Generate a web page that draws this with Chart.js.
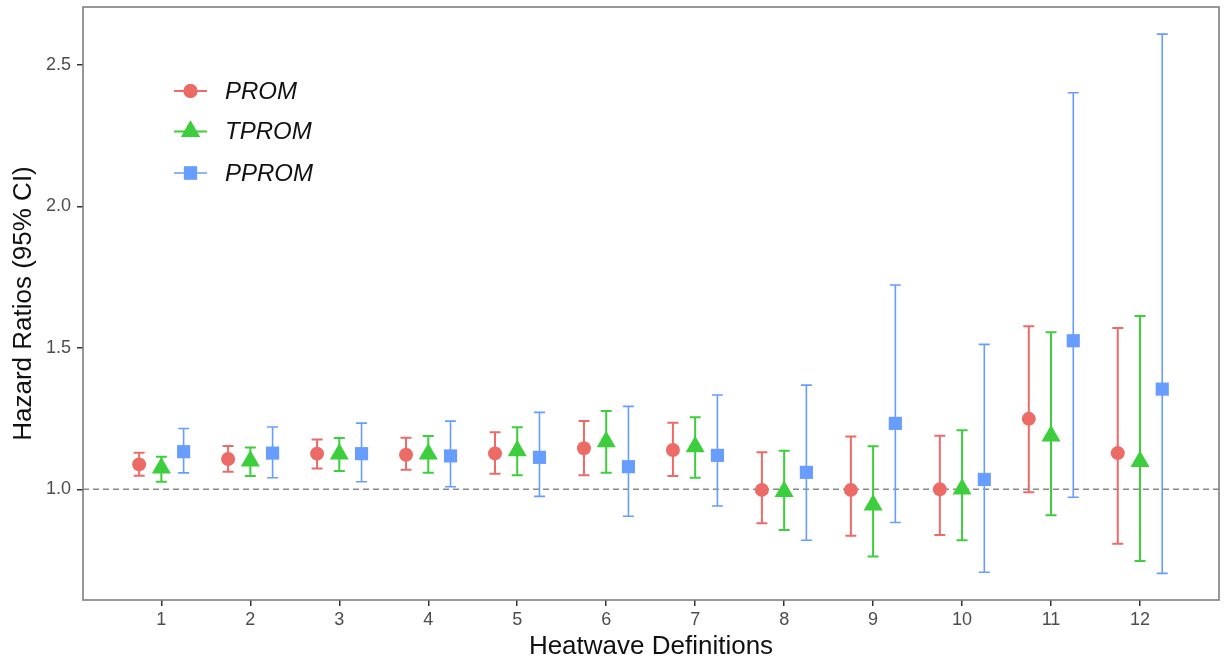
<!DOCTYPE html>
<html>
<head>
<meta charset="utf-8">
<script src="https://cdn.jsdelivr.net/npm/chart.js@4.4.1/dist/chart.umd.min.js"></script>
<style>
  html, body { margin: 0; padding: 0; background: #ffffff; }
  #wrap { width: 1225px; height: 665px; position: relative; }
</style>
</head>
<body>
<div id="wrap"><canvas id="c" width="1225" height="665"></canvas></div>
<script>
// ---- Data ----
const categories = [1, 2, 3, 4, 5, 6, 7, 8, 9, 10, 11, 12];
const seriesNames = ['PROM', 'TPROM', 'PPROM'];

const promHR  = [1.088, 1.107, 1.126, 1.122, 1.127, 1.145, 1.139, 0.998, 0.998, 1.000, 1.249, 1.128];
const promLo  = [1.048, 1.062, 1.074, 1.069, 1.055, 1.050, 1.047, 0.880, 0.836, 0.839, 0.990, 0.808];
const promHi  = [1.129, 1.153, 1.176, 1.182, 1.202, 1.241, 1.235, 1.131, 1.187, 1.189, 1.576, 1.570];

const tpromHR = [1.075, 1.100, 1.125, 1.125, 1.136, 1.168, 1.150, 0.992, 0.945, 1.001, 1.188, 1.098];
const tpromLo = [1.027, 1.047, 1.065, 1.059, 1.050, 1.059, 1.041, 0.856, 0.763, 0.820, 0.908, 0.747];
const tpromHi = [1.115, 1.148, 1.181, 1.188, 1.219, 1.277, 1.255, 1.136, 1.152, 1.209, 1.555, 1.612];

const ppromHR = [1.133, 1.128, 1.126, 1.118, 1.113, 1.080, 1.120, 1.060, 1.233, 1.035, 1.525, 1.354];
const ppromLo = [1.058, 1.041, 1.027, 1.009, 0.975, 0.905, 0.941, 0.820, 0.883, 0.707, 0.972, 0.703];
const ppromHi = [1.215, 1.220, 1.234, 1.241, 1.272, 1.293, 1.333, 1.368, 1.722, 1.512, 2.401, 2.608];

const yTickValues = [1.0, 1.5, 2.0, 2.5];
const referenceHR = 1.0;

// ---- Styling ----
const colors = { PROM: '#EC6B67', TPROM: '#3DCE3D', PPROM: '#679DFF' };
const dodge = { PROM: -0.25, TPROM: 0, PPROM: 0.25 };
const shapes = { PROM: 'circle', TPROM: 'triangle', PPROM: 'rect' };
const radii = { PROM: 7, TPROM: 11, PPROM: 9.3 };
const barWidths = { PROM: 2, TPROM: 2, PPROM: 1.6 };
const FONT = "'Liberation Sans', Arial, sans-serif";

function build(name, hr, lo, hi) {
  return {
    label: name,
    data: categories.map((c, i) => ({ x: c + dodge[name], y: hr[i], lo: lo[i], hi: hi[i] })),
    backgroundColor: colors[name],
    borderColor: colors[name],
    borderWidth: 0,
    pointStyle: shapes[name],
    pointRadius: radii[name],
    pointHoverRadius: radii[name],
    barWidth: barWidths[name]
  };
}

const datasets = [
  build('PROM', promHR, promLo, promHi),
  build('TPROM', tpromHR, tpromLo, tpromHi),
  build('PPROM', ppromHR, ppromLo, ppromHi)
];

const errorBarPlugin = {
  id: 'errorBars',
  beforeDatasetsDraw(chart) {
    const { ctx, chartArea, scales: { x, y } } = chart;
    const yr = y.getPixelForValue(referenceHR);
    ctx.save();
    ctx.strokeStyle = '#8a8a8a';
    ctx.lineWidth = 1.5;
    ctx.setLineDash([6, 4]);
    ctx.beginPath();
    ctx.moveTo(chartArea.left, yr);
    ctx.lineTo(chartArea.right, yr);
    ctx.stroke();
    ctx.setLineDash([]);
    chart.data.datasets.forEach(ds => {
      ctx.strokeStyle = ds.borderColor;
      ctx.lineWidth = ds.barWidth;
      ds.data.forEach(d => {
        const px = x.getPixelForValue(d.x);
        const pl = y.getPixelForValue(d.lo);
        const ph = y.getPixelForValue(d.hi);
        const cap = 5.5;
        ctx.beginPath();
        ctx.moveTo(px, pl); ctx.lineTo(px, ph);
        ctx.moveTo(px - cap, pl); ctx.lineTo(px + cap, pl);
        ctx.moveTo(px - cap, ph); ctx.lineTo(px + cap, ph);
        ctx.stroke();
      });
    });
    ctx.restore();
  },
  afterDraw(chart) {
    const { ctx, chartArea } = chart;
    ctx.save();
    ctx.strokeStyle = '#7f7f7f';
    ctx.lineWidth = 1.6;
    ctx.strokeRect(chartArea.left, chartArea.top, chartArea.right - chartArea.left, chartArea.bottom - chartArea.top);
    const rows = [91, 131.5, 173];
    chart.data.datasets.forEach((ds, i) => {
      const yy = rows[i];
      ctx.strokeStyle = ds.borderColor;
      ctx.lineWidth = ds.barWidth;
      ctx.beginPath();
      ctx.moveTo(174, yy); ctx.lineTo(207, yy);
      ctx.stroke();
      ctx.fillStyle = ds.backgroundColor;
      Chart.helpers.drawPoint(ctx, { pointStyle: ds.pointStyle, radius: ds.pointRadius, borderWidth: 0 }, 190.5, yy);
      ctx.fill();
      ctx.fillStyle = '#111111';
      ctx.font = 'italic 24px ' + FONT;
      ctx.textBaseline = 'middle';
      ctx.textAlign = 'left';
      ctx.fillText(ds.label, 225, yy + 1);
    });
    ctx.restore();
  }
};

new Chart(document.getElementById('c'), {
  type: 'scatter',
  data: { datasets },
  options: {
    responsive: false,
    animation: false,
    events: [],
    layout: { autoPadding: false, padding: { top: 7, right: 6, left: 0, bottom: 0 } },
    plugins: { legend: { display: false }, tooltip: { enabled: false } },
    scales: {
      x: {
        type: 'linear',
        min: 0.119,
        max: 12.888,
        afterFit(scale) { scale.height = 65; scale.paddingLeft = 0; scale.paddingRight = 0; },
        afterBuildTicks(scale) { scale.ticks = categories.map(v => ({ value: v })); },
        border: { display: false },
        grid: { drawOnChartArea: false, drawTicks: true, tickLength: 6, color: '#333333', lineWidth: 1.5 },
        ticks: {
          font: { family: FONT, size: 18 },
          color: '#4d4d4d',
          padding: 3,
          maxRotation: 0,
          callback: v => String(v)
        },
        title: {
          display: true,
          text: 'Heatwave Definitions',
          font: { family: FONT, size: 26 },
          color: '#111111',
          padding: { top: 0, bottom: 3 }
        }
      },
      y: {
        type: 'linear',
        min: 0.609,
        max: 2.704,
        afterFit(scale) { scale.width = 83; scale.paddingTop = 0; scale.paddingBottom = 0; },
        afterBuildTicks(scale) { scale.ticks = yTickValues.map(v => ({ value: v })); },
        border: { display: false },
        grid: { drawOnChartArea: false, drawTicks: true, tickLength: 6, color: '#333333', lineWidth: 1.5 },
        ticks: {
          font: { family: FONT, size: 18 },
          color: '#4d4d4d',
          padding: 6,
          callback: v => Number(v).toFixed(1)
        },
        title: {
          display: true,
          text: 'Hazard Ratios (95% CI)',
          font: { family: FONT, size: 26 },
          color: '#111111',
          padding: { top: 8, bottom: 0 }
        }
      }
    }
  },
  plugins: [errorBarPlugin]
});
</script>
</body>
</html>
